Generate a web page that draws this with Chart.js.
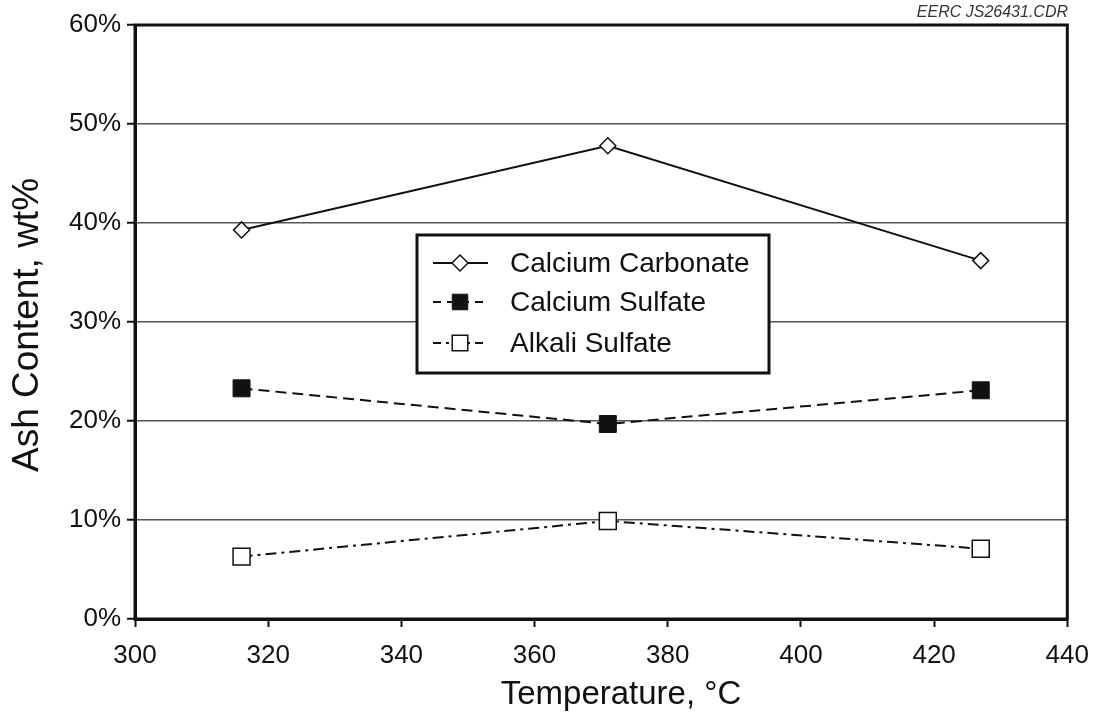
<!DOCTYPE html>
<html>
<head>
<meta charset="utf-8">
<script src="https://cdn.jsdelivr.net/npm/chart.js@4.4.1/dist/chart.umd.min.js"></script>
<style>
  html, body { margin: 0; padding: 0; background: #fff; }
  #wrap { width: 1102px; height: 721px; }
</style>
</head>
<body>
<div id="wrap"><canvas id="c" width="1102" height="721"></canvas></div>
<script>
// ---- Data ----
const temperatures = [316, 371, 427];
const calciumCarbonate = [39.3, 47.8, 36.2];
const calciumSulfate = [23.3, 19.7, 23.1];
const alkaliSulfate = [6.3, 9.9, 7.1];
const seriesNames = ['Calcium Carbonate', 'Calcium Sulfate', 'Alkali Sulfate'];
const xTitle = 'Temperature, °C';
const yTitle = 'Ash Content, wt%';
const sourceNote = 'EERC JS26431.CDR';

const FONT = "'Liberation Sans', Arial, Helvetica, sans-serif";

function pts(vals) { return temperatures.map((t, i) => ({ x: t, y: vals[i] })); }

const datasets = [
  { label: seriesNames[0], data: pts(calciumCarbonate), borderColor: '#111', borderWidth: 2,
    borderDash: [], pointStyle: 'rectRot', pointRadius: 8, pointBackgroundColor: '#fff',
    pointBorderColor: '#111', pointBorderWidth: 1.5 },
  { label: seriesNames[1], data: pts(calciumSulfate), borderColor: '#111', borderWidth: 2,
    borderDash: [11, 6], pointStyle: 'rect', pointRadius: 12, pointBackgroundColor: '#111',
    pointBorderColor: '#111', pointBorderWidth: 1 },
  { label: seriesNames[2], data: pts(alkaliSulfate), borderColor: '#111', borderWidth: 2,
    borderDash: [11, 5, 3, 5], pointStyle: 'rect', pointRadius: 12, pointBackgroundColor: '#fff',
    pointBorderColor: '#111', pointBorderWidth: 1.5 }
];

const framePlugin = {
  id: 'frame',
  afterDatasetsDraw(chart) {
    const ctx = chart.ctx;
    ctx.save();
    // legend box
    const bx = 417, by = 235, bw = 352, bh = 138;
    ctx.fillStyle = '#fff';
    ctx.fillRect(bx, by, bw, bh);
    ctx.lineWidth = 3;
    ctx.strokeStyle = '#111';
    ctx.strokeRect(bx, by, bw, bh);
    const rows = [263, 302, 343];
    chart.data.datasets.forEach((ds, i) => {
      const y = rows[i];
      ctx.save();
      ctx.strokeStyle = '#111';
      ctx.lineWidth = 2;
      ctx.setLineDash(i === 0 ? [] : (i === 1 ? [8, 6] : [8, 5, 3, 5]));
      ctx.beginPath();
      ctx.moveTo(433, y);
      ctx.lineTo(488, y);
      ctx.stroke();
      ctx.restore();
      ctx.save();
      ctx.fillStyle = ds.pointBackgroundColor;
      ctx.strokeStyle = '#111';
      ctx.lineWidth = ds.pointBorderWidth;
      Chart.helpers.drawPoint(ctx, {
        pointStyle: ds.pointStyle, radius: i === 0 ? 8 : 11, rotation: 0,
        borderWidth: ds.pointBorderWidth
      }, 460, y);
      ctx.restore();
      ctx.fillStyle = '#111';
      ctx.font = '28px ' + FONT;
      ctx.textBaseline = 'middle';
      ctx.textAlign = 'left';
      ctx.fillText(ds.label, 510, y + 1);
    });
    ctx.restore();
  },
  afterDraw(chart) {
    const ctx = chart.ctx;
    const a = chart.chartArea;
    ctx.save();
    ctx.lineWidth = 3;
    ctx.strokeStyle = '#111';
    ctx.strokeRect(a.left, a.top, a.right - a.left, a.bottom - a.top);
    ctx.fillStyle = '#333';
    ctx.font = 'italic 16px ' + FONT;
    ctx.textAlign = 'right';
    ctx.textBaseline = 'alphabetic';
    ctx.fillText(sourceNote, 1068, 17);
    // x axis title
    ctx.fillStyle = '#111';
    ctx.font = '33px ' + FONT;
    ctx.textAlign = 'center';
    ctx.textBaseline = 'middle';
    ctx.fillText(xTitle, 621, 695);
    // y axis title
    ctx.translate(28, 325);
    ctx.rotate(-Math.PI / 2);
    ctx.font = '37px ' + FONT;
    ctx.fillText(yTitle, 0, 0);
    ctx.restore();
  }
};

new Chart(document.getElementById('c'), {
  type: 'line',
  data: { datasets },
  options: {
    responsive: false,
    animation: false,
    devicePixelRatio: 1,
    layout: { padding: { top: 25, right: 34, left: 0, bottom: 0 } },
    plugins: { legend: { display: false }, tooltip: { enabled: false } },
    scales: {
      x: {
        type: 'linear', min: 300, max: 440,
        afterFit(s) { s.height = 102; },
        ticks: { stepSize: 20, color: '#111', padding: 13, font: { family: FONT, size: 26 } },
        grid: { drawOnChartArea: false, drawTicks: true, tickLength: 8, tickColor: '#111', tickWidth: 2 },
        border: { display: true, color: '#111', width: 3 },
        title: { display: false, text: xTitle }
      },
      y: {
        min: 0, max: 60,
        afterFit(s) { s.width = 135; },
        ticks: { stepSize: 10, color: '#111', padding: 6, font: { family: FONT, size: 26 },
                 callback: v => v + '%' },
        grid: { color: '#555', lineWidth: 1.5, drawTicks: true, tickLength: 8, tickColor: '#111', tickWidth: 2 },
        border: { display: true, color: '#111', width: 3 },
        title: { display: false, text: yTitle }
      }
    }
  },
  plugins: [framePlugin]
});
</script>
</body>
</html>
